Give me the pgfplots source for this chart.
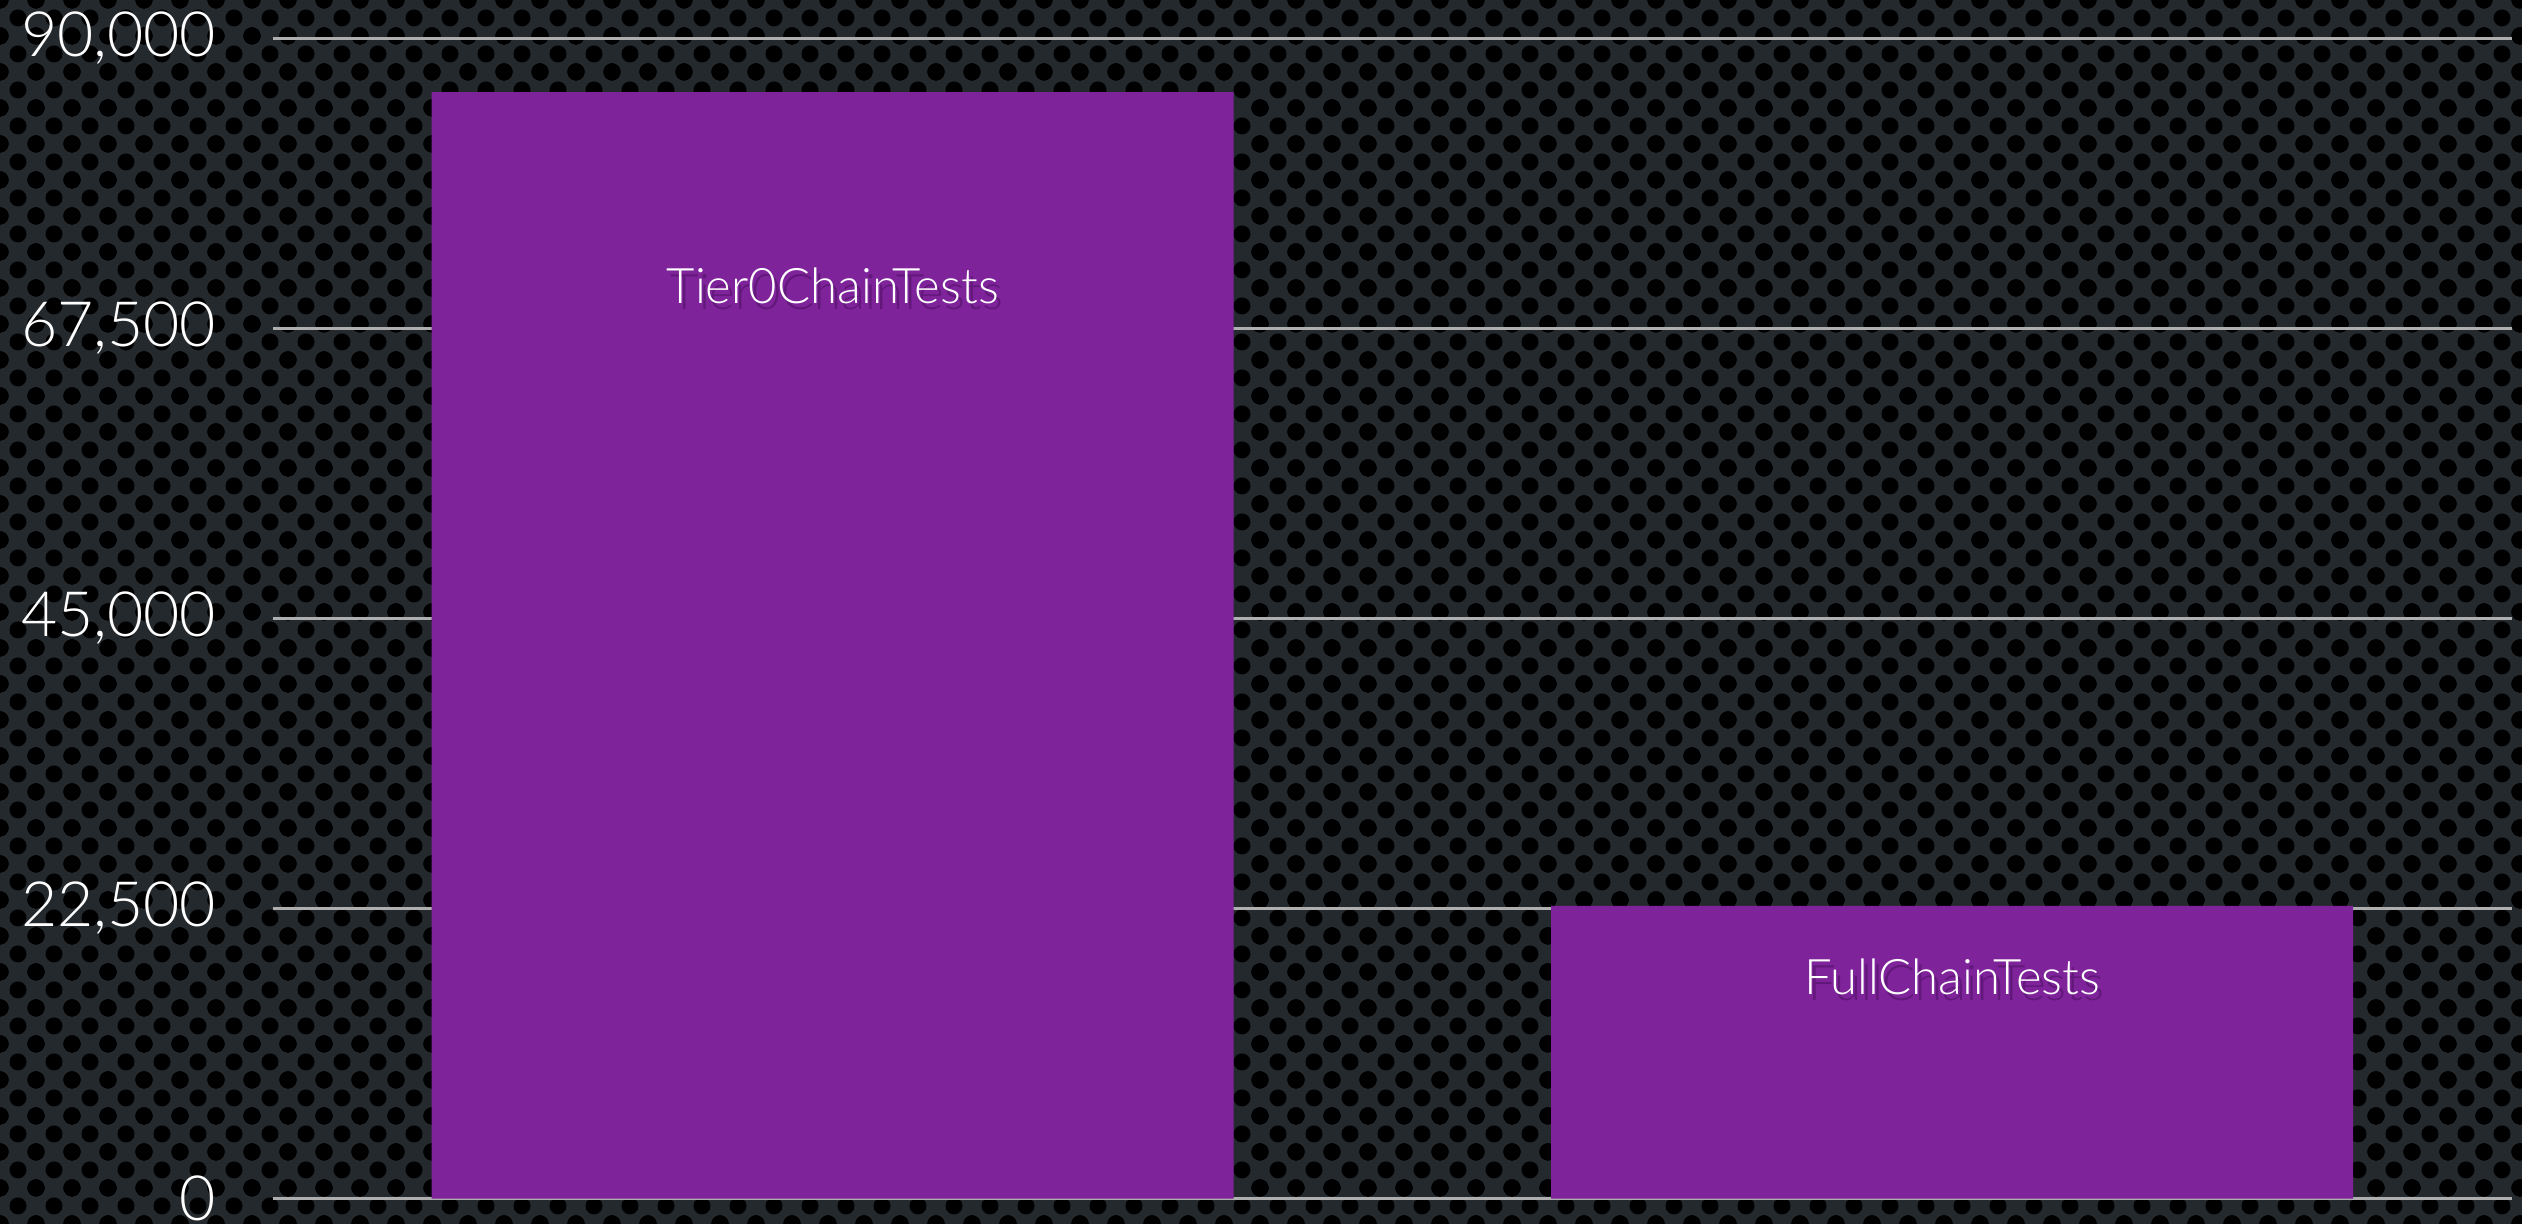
\documentclass[border=0pt]{standalone}
\usepackage{pgfplots}
\pgfplotsset{compat=1.18}
\usepackage{fontspec}
\setmainfont{Lato}[UprightFont={* Light}]
\usetikzlibrary{patterns}
\definecolor{barpurple}{RGB}{127,35,155}
\definecolor{shadowpurple}{RGB}{80,15,100}
\definecolor{bgmesh}{RGB}{36,41,46}
\definecolor{gridgray}{RGB}{175,175,175}
\pgfdeclarepatternformonly{mesh}{\pgfpoint{-1.8pt}{-1.8pt}}{\pgfpoint{9pt}{9pt}}{\pgfpoint{7.2pt}{7.2pt}}{%
  \pgfpathcircle{\pgfpoint{0pt}{0pt}}{1.7pt}%
  \pgfpathcircle{\pgfpoint{3.6pt}{3.6pt}}{1.7pt}%
  \pgfpathcircle{\pgfpoint{7.2pt}{0pt}}{1.7pt}%
  \pgfpathcircle{\pgfpoint{0pt}{7.2pt}}{1.7pt}%
  \pgfpathcircle{\pgfpoint{7.2pt}{7.2pt}}{1.7pt}%
  \pgfusepath{fill}%
}
\begin{document}
\begin{tikzpicture}
\fill[bgmesh] (-54.6pt,-5.08pt) rectangle (449.8pt,239.7pt);
\fill[pattern=mesh, pattern color=black] (-54.6pt,-5.08pt) rectangle (449.8pt,239.7pt);
\begin{axis}[
  at={(0pt,0pt)}, anchor=south west,
  width=447.8pt, height=232pt, scale only axis,
  xmin=-0.5, xmax=1.5, ymin=0, ymax=90000,
  axis line style={draw=none},
  xtick=\empty,
  ytick={0,22500,45000,67500,90000},
  yticklabels={0,{22,500},{45,000},{67,500},{90,000}},
  scaled y ticks=false,
  major tick length=0pt,
  ymajorgrids,
  grid style={gridgray, line width=0.45pt},
  yticklabel style={font=\fontsize{12.5}{14}\selectfont, text=white, inner sep=0pt, anchor=east, xshift=-11.2pt},
  ybar, bar width=160.4pt,
]
\addplot[fill=barpurple, draw=none] coordinates {(0,85850) (1,22700)};
\node[anchor=base, text=shadowpurple, opacity=0.6, font=\fontsize{9.8}{11}\selectfont] at ([xshift=0.8pt,yshift=-1.2pt]axis cs:0,69480) {Tier0ChainTests};
\node[anchor=base, text=white, font=\fontsize{9.8}{11}\selectfont] at (axis cs:0,69480) {Tier0ChainTests};
\node[anchor=base, text=shadowpurple, opacity=0.6, font=\fontsize{9.8}{11}\selectfont] at ([xshift=0.8pt,yshift=-1.2pt]axis cs:1,15795) {FullChainTests};
\node[anchor=base, text=white, font=\fontsize{9.8}{11}\selectfont] at (axis cs:1,15795) {FullChainTests};
\end{axis}
\end{tikzpicture}
\end{document}
